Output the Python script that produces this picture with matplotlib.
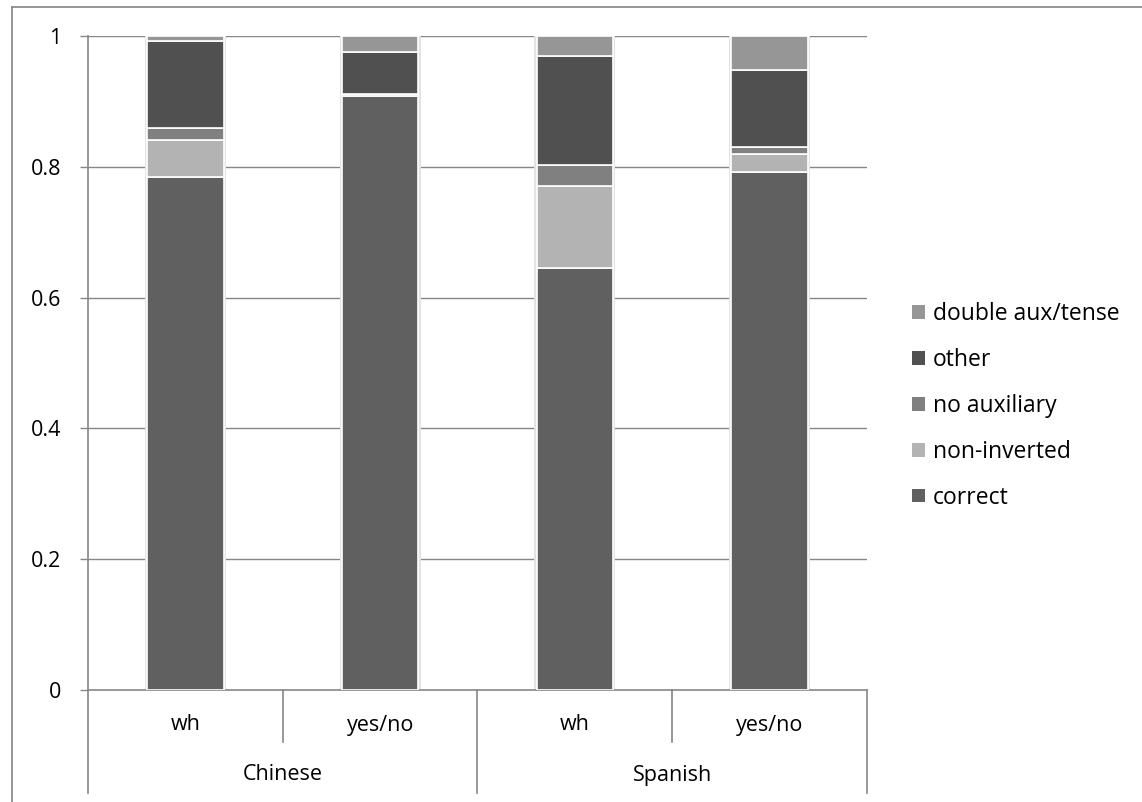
import matplotlib
matplotlib.use("Agg")
import matplotlib.pyplot as plt
from matplotlib.lines import Line2D
from matplotlib.patches import Patch
import matplotlib.transforms as mtransforms

plt.rcParams['font.family'] = ['Open Sans', 'DejaVu Sans']

groups = ["Chinese", "Spanish"]
subcats = ["wh", "yes/no", "wh", "yes/no"]
series = ["correct", "non-inverted", "no auxiliary", "other", "double aux/tense"]
correct = [0.785, 0.909, 0.646, 0.792]
non_inverted = [0.056, 0.003, 0.125, 0.028]
no_auxiliary = [0.018, 0.000, 0.031, 0.010]
other = [0.133, 0.064, 0.167, 0.118]
double_aux = [0.008, 0.024, 0.031, 0.052]
values = [correct, non_inverted, no_auxiliary, other, double_aux]
colors = ["#606060", "#b3b3b3", "#808080", "#505050", "#969696"]
yticks = [0, 0.2, 0.4, 0.6, 0.8, 1.0]
ytick_labels = ["0", "0.2", "0.4", "0.6", "0.8", "1"]

FS = 15.5
W, H = 1142, 802
fig = plt.figure(figsize=(W / 100, H / 100), dpi=100)
ax = fig.add_axes([88 / W, 1 - 690 / H, (867 - 88) / W, (690 - 36) / H])

x = list(range(len(subcats)))
width = 0.393
grey = "#868686"

for yv in yticks[1:]:
    ax.axhline(yv, color=grey, lw=1.0, zorder=1)

# soft shadow around bars
totals = [sum(v[i] for v in values) for i in x]
ax.bar(x, [t + 0.004 for t in totals], width=width + 0.022, bottom=-0.002,
       color="#e3e3e3", edgecolor="none", zorder=2)

bottoms = [0.0] * len(x)
handles = []
for vals, col, name in zip(values, colors, series):
    ax.bar(x, vals, width=width, bottom=bottoms, color=col, edgecolor="white",
           linewidth=1.2, zorder=3)
    bottoms = [b + v for b, v in zip(bottoms, vals)]
    handles.append(Patch(facecolor=col, edgecolor="none", label=name))

ax.set_xlim(-0.5, 3.5)
ax.set_ylim(0, 1)
ax.set_yticks(yticks)
ax.set_yticklabels(ytick_labels, fontsize=FS)
ax.set_xticks([])
for s in ["top", "right"]:
    ax.spines[s].set_visible(False)
ax.spines["left"].set_color(grey)
ax.spines["bottom"].set_color(grey)
ax.spines["left"].set_linewidth(1.2)
ax.spines["bottom"].set_linewidth(1.2)
ax.tick_params(axis="y", length=6, color=grey, width=1.0, pad=13, labelcolor="black")

# category axis (two-level)
trans = mtransforms.blended_transform_factory(ax.transData, ax.transAxes)
ax_h = 654.0
def yfrac(py):
    return (690 - py) / ax_h
for xv in [-0.5, 1.5, 3.5]:
    ax.plot([xv, xv], [0, yfrac(793)], transform=trans, color=grey, lw=1.2, clip_on=False)
for xv in [0.5, 2.5]:
    ax.plot([xv, xv], [0, yfrac(742)], transform=trans, color=grey, lw=1.2, clip_on=False)
for xv, lab in zip(x, subcats):
    ax.text(xv, yfrac(725), lab, transform=trans, ha="center", va="center", fontsize=FS)
for gi, g in enumerate(groups):
    ax.text(gi * 2 + 0.5, yfrac(775), g, transform=trans, ha="center", va="center", fontsize=FS)

leg = fig.legend(handles=handles[::-1], loc="center left",
                 bbox_to_anchor=(903 / W, 1 - 406 / H), frameon=False,
                 fontsize=16.5, handlelength=0.55, handleheight=0.55,
                 handletextpad=0.35, labelspacing=0.95, borderaxespad=0)

# outer chart border (top and left)
fig.add_artist(Line2D([12 / W, 1], [1 - 6.5 / H, 1 - 6.5 / H], transform=fig.transFigure,
                      color="#8c8c8c", lw=1.3))
fig.add_artist(Line2D([12 / W, 12 / W], [0, 1 - 6.5 / H], transform=fig.transFigure,
                      color="#8c8c8c", lw=1.3))

fig.savefig("out.png", dpi=100)
